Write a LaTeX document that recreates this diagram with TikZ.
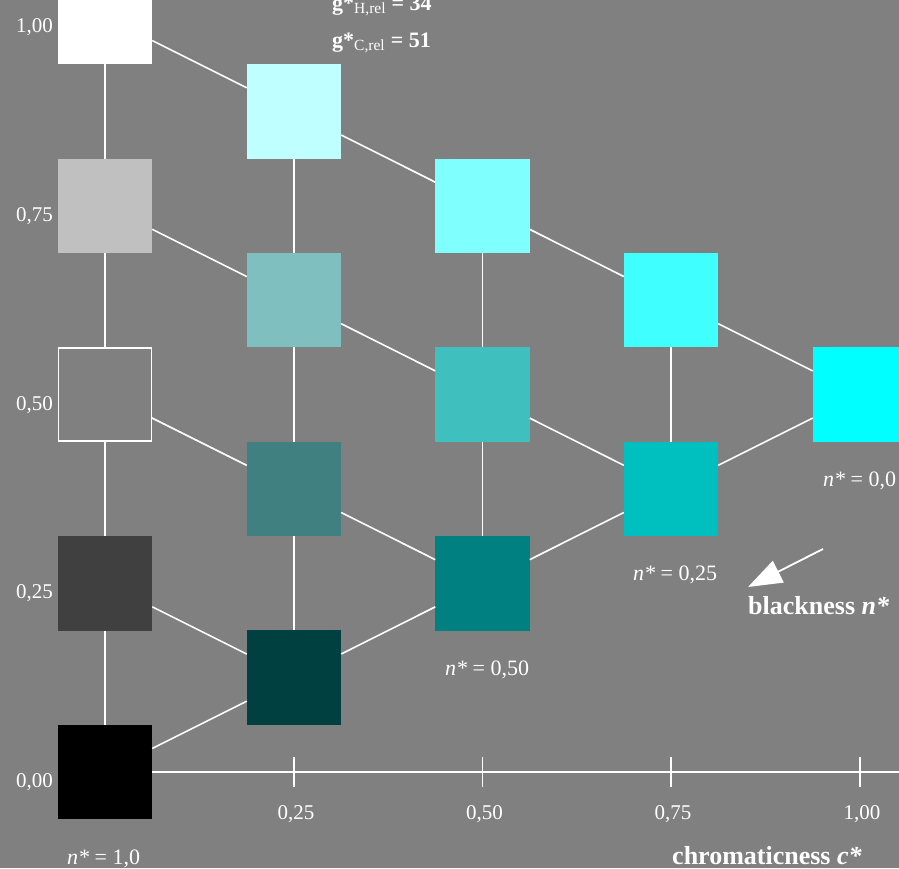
\documentclass[tikz,border=0pt]{standalone}
\usepackage{fontspec}
\setmainfont{Liberation Serif}
\usetikzlibrary{arrows.meta}
\definecolor{bg}{HTML}{808080}
\tikzset{
  sq/.style={minimum size=94.5pt, inner sep=0pt, outer sep=0pt},
  conn/.style={draw=white, line width=1.6pt},
  lbl/.style={text=white, inner sep=0pt, font=\fontsize{21}{21}\selectfont},
  nlbl/.style={text=white, inner sep=0pt, font=\fontsize{22}{22}\selectfont},
  blbl/.style={text=white, inner sep=0pt, font=\fontsize{26}{26}\selectfont\bfseries},
  ttl/.style={text=white, inner sep=0pt, font=\fontsize{22}{22}\selectfont\bfseries},
}
\newcommand{\sub}[1]{\textsubscript{\normalfont\fontsize{15.5}{15.5}\selectfont #1}}
\begin{document}
\begin{tikzpicture}[x=1pt,y=-1pt]
\fill[bg] (0,0) rectangle (899,868);
\useasboundingbox (0,0) rectangle (899,868);
% axis
\coordinate (axstart) at (105,772);
\coordinate (axend) at (899,772);
\draw[white, line width=2pt] (axstart) -- (axend);
\foreach \x in {294,482.5,671,860}{
  \draw[white, line width=1.6pt] (\x,757) -- (\x,787);
}
\node[lbl, anchor=base] (xl1) at (296,819) {0,25};
\node[lbl, anchor=base] (xl2) at (484.5,819) {0,50};
\node[lbl, anchor=base] (xl3) at (673,819) {0,75};
\node[lbl, anchor=base] (xl4) at (862,819) {1,00};
% y labels
\node[lbl, anchor=base east] (yl1) at (53,32) {1,00};
\node[lbl, anchor=base east] (yl2) at (53,221) {0,75};
\node[lbl, anchor=base east] (yl3) at (53,410) {0,50};
\node[lbl, anchor=base east] (yl4) at (53,598) {0,25};
\node[lbl, anchor=base east] (yl5) at (53,787) {0,00};
% squares
\node[sq, fill=white] (w10) at (105,17) {};
\node[sq, fill={rgb,255:red,192;green,192;blue,192}] (g75) at (105,205.75) {};
\node[sq, fill=bg, draw=white, line width=1.6pt, minimum size=93pt] (g50) at (105,394.5) {};
\node[sq, fill={rgb,255:red,64;green,64;blue,64}] (g25) at (105,583.25) {};
\node[sq, fill=black] (k) at (105,772) {};
\node[sq, fill={rgb,255:red,191;green,255;blue,255}] (a1) at (294,111.4) {};
\node[sq, fill={rgb,255:red,128;green,191;blue,191}] (a2) at (294,300.1) {};
\node[sq, fill={rgb,255:red,64;green,128;blue,128}] (a3) at (294,488.9) {};
\node[sq, fill={rgb,255:red,0;green,64;blue,64}] (a4) at (294,677.6) {};
\node[sq, fill={rgb,255:red,128;green,255;blue,255}] (b1) at (482.5,205.75) {};
\node[sq, fill={rgb,255:red,64;green,191;blue,191}] (b2) at (482.5,394.5) {};
\node[sq, fill={rgb,255:red,0;green,128;blue,128}] (b3) at (482.5,583.25) {};
\node[sq, fill={rgb,255:red,64;green,255;blue,255}] (c1) at (671,300.1) {};
\node[sq, fill={rgb,255:red,0;green,191;blue,191}] (c2) at (671,488.9) {};
\node[sq, fill={rgb,255:red,0;green,255;blue,255}] (d1) at (860,394.5) {};
% connectors
\draw[conn] (w10) -- (g75);
\draw[conn] (g75) -- (g50);
\draw[conn] (g50) -- (g25);
\draw[conn] (g25) -- (k);
\draw[conn] (a1) -- (a2);
\draw[conn] (a2) -- (a3);
\draw[conn] (a3) -- (a4);
\draw[conn] (b1) -- (b2);
\draw[conn] (b2) -- (b3);
\draw[conn] (c1) -- (c2);
\draw[conn] (w10) -- (a1);
\draw[conn] (a1) -- (b1);
\draw[conn] (b1) -- (c1);
\draw[conn] (c1) -- (d1);
\draw[conn] (g75) -- (a2);
\draw[conn] (a2) -- (b2);
\draw[conn] (b2) -- (c2);
\draw[conn] (g50) -- (a3);
\draw[conn] (a3) -- (b3);
\draw[conn] (g25) -- (a4);
\draw[conn] (k) -- (a4);
\draw[conn] (a4) -- (b3);
\draw[conn] (b3) -- (c2);
\draw[conn] (c2) -- (d1);
% top texts
\node[ttl, anchor=base west] (gh) at (332,10) {g*\sub{H,rel} = 34};
\node[ttl, anchor=base west] (gc) at (332,47) {g*\sub{C,rel} = 51};
% n* labels
\node[nlbl, anchor=base west] (n0) at (823,486) {\textit{n*} = 0,0};
\node[nlbl, anchor=base west] (n25) at (633,580) {\textit{n*} = 0,25};
\node[nlbl, anchor=base west] (n50) at (445,675) {\textit{n*} = 0,50};
\node[nlbl, anchor=base west] (n10) at (67,864) {\textit{n*} = 1,0};
\node[blbl, anchor=base west] (bn) at (748,614) {blackness \textit{n*}};
\node[blbl, anchor=base west] (cc) at (672,864) {chromaticness \textit{c*}};
% arrow
\coordinate (arS) at (823,549);
\coordinate (arT) at (748,587);
\draw[white, line width=1.8pt, -{Triangle[length=34pt,width=24pt]}] (arS) -- (arT);
\end{tikzpicture}
\end{document}
